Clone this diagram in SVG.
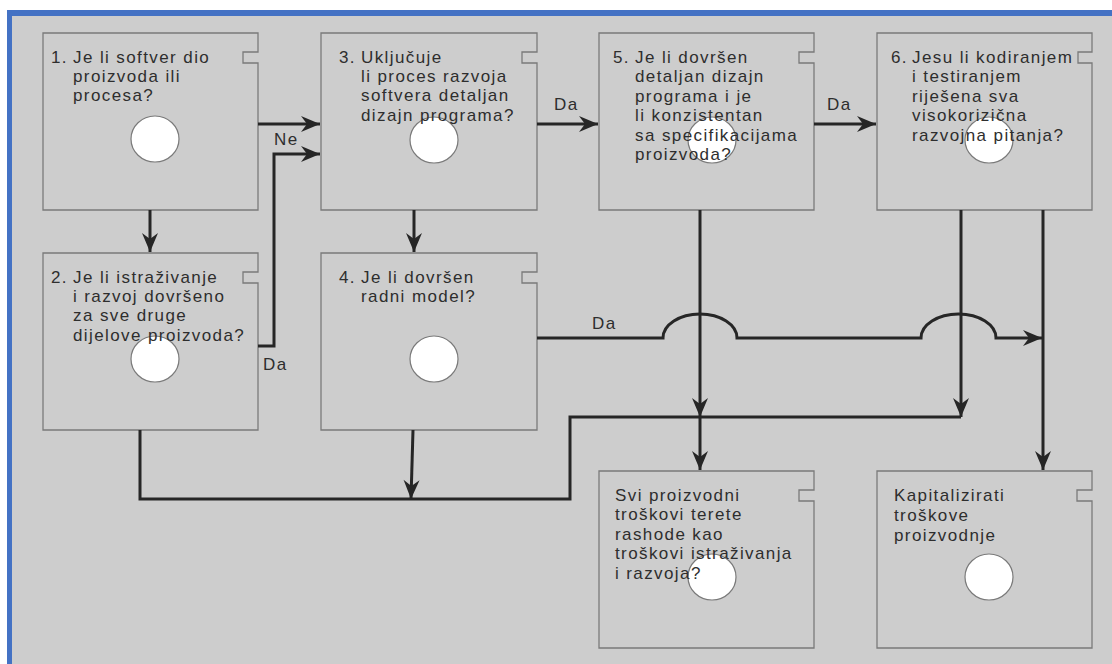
<svg xmlns="http://www.w3.org/2000/svg" width="1112" height="664" viewBox="0 0 1112 664">
<style>
.box{fill:#cdcdcd;stroke:#7a7a7a;stroke-width:1.3}
.hole{fill:#ffffff;stroke:#7a7a7a;stroke-width:1.2}
text{font-family:"Liberation Sans",Arial,sans-serif;font-size:17px;letter-spacing:1.4px;fill:#2e2e2e}
.c{fill:none;stroke:#262626;stroke-width:3}
</style>
<defs>
<marker id="ah" markerUnits="userSpaceOnUse" viewBox="-20 -10 22 20" refX="0" refY="0" markerWidth="22" markerHeight="20" orient="auto">
<path d="M0,0 L-19,-8 L-13,0 L-19,8 Z" fill="#262626"/>
</marker>
</defs>
<rect x="0" y="0" width="1112" height="664" fill="#ffffff"/>
<rect x="7" y="10" width="1105" height="654" fill="#4472c4"/>
<rect x="12" y="16" width="1100" height="648" fill="#cdcdcd"/>

<g id="n1">
<path class="box" d="M43,33 H258 V52 H243 V63 H258 V210 H43 Z"/>
<ellipse class="hole" cx="155" cy="139" rx="24" ry="23"/>
<text x="51" y="63">1.</text>
<text x="73" y="63">Je li softver dio</text>
<text x="73" y="82">proizvoda ili</text>
<text x="73" y="101">procesa?</text>
</g>
<g id="n3">
<path class="box" d="M321,33 H537 V52 H522 V63 H537 V210 H321 Z"/>
<ellipse class="hole" cx="434" cy="140" rx="24" ry="23"/>
<text x="339" y="63">3.</text>
<text x="361" y="63">Uključuje</text>
<text x="361" y="82">li proces razvoja</text>
<text x="361" y="101">softvera detaljan</text>
<text x="361" y="121">dizajn programa?</text>
</g>
<g id="n5">
<path class="box" d="M599,33 H814 V52 H799 V63 H814 V210 H599 Z"/>
<ellipse class="hole" cx="712" cy="140" rx="24" ry="23"/>
<text x="613" y="63">5.</text>
<text x="635" y="63">Je li dovršen</text>
<text x="635" y="82">detaljan dizajn</text>
<text x="635" y="102">programa i je</text>
<text x="635" y="121">li konzistentan</text>
<text x="635" y="141">sa specifikacijama</text>
<text x="635" y="160">proizvoda?</text>
</g>
<g id="n6">
<path class="box" d="M877,33 H1092 V52 H1078 V63 H1092 V210 H877 Z"/>
<ellipse class="hole" cx="989" cy="140" rx="24" ry="23"/>
<text x="891" y="63">6.</text>
<text x="912" y="63">Jesu li kodiranjem</text>
<text x="912" y="82">i testiranjem</text>
<text x="912" y="102">riješena sva</text>
<text x="912" y="121">visokorizična</text>
<text x="912" y="141">razvojna pitanja?</text>
</g>
<g id="n2">
<path class="box" d="M43,253 H258 V272 H243 V283 H258 V430 H43 Z"/>
<ellipse class="hole" cx="155" cy="359" rx="24" ry="23"/>
<text x="51" y="283">2.</text>
<text x="73" y="283">Je li istraživanje</text>
<text x="73" y="302">i razvoj dovršeno</text>
<text x="73" y="321">za sve druge</text>
<text x="73" y="341">dijelove proizvoda?</text>
</g>
<g id="n4">
<path class="box" d="M321,253 H537 V272 H522 V283 H537 V430 H321 Z"/>
<ellipse class="hole" cx="434" cy="359" rx="24" ry="23"/>
<text x="339" y="283">4.</text>
<text x="361" y="283">Je li dovršen</text>
<text x="361" y="302">radni model?</text>
</g>
<g id="n7">
<path class="box" d="M599,471 H814 V490 H799 V501 H814 V648 H599 Z"/>
<ellipse class="hole" cx="712" cy="577" rx="24" ry="23"/>
<text x="615" y="501">Svi proizvodni</text>
<text x="615" y="520">troškovi terete</text>
<text x="615" y="540">rashode kao</text>
<text x="615" y="559">troškovi istraživanja</text>
<text x="615" y="579">i razvoja?</text>
</g>
<g id="n8">
<path class="box" d="M877,471 H1092 V490 H1077 V501 H1092 V648 H877 Z"/>
<ellipse class="hole" cx="989" cy="577" rx="24" ry="23"/>
<text x="894" y="501">Kapitalizirati</text>
<text x="894" y="521">troškove</text>
<text x="894" y="541">proizvodnje</text>
</g>

<g id="connectors">
<path class="c" d="M150,210 V252" marker-end="url(#ah)"/>
<path class="c" d="M258,124 H320" marker-end="url(#ah)"/>
<path class="c" d="M258,346 H274 V154 H320" marker-end="url(#ah)"/>
<path class="c" d="M537,124 H598" marker-end="url(#ah)"/>
<path class="c" d="M814,124 H876" marker-end="url(#ah)"/>
<path class="c" d="M414,210 V252" marker-end="url(#ah)"/>
<path class="c" d="M537,338 H663 A37,24 0 0 1 737,338 H921 A37.5,24 0 0 1 996,338 H1042" marker-end="url(#ah)"/>
<path class="c" d="M140,430 V499 H570 V417 H961"/>
<path class="c" d="M961,210 V417" marker-end="url(#ah)"/>
<path class="c" d="M413,430 L411,499" marker-end="url(#ah)"/>
<path class="c" d="M700,210 V417" marker-end="url(#ah)"/>
<path class="c" d="M700,417 V470" marker-end="url(#ah)"/>
<path class="c" d="M1043,210 V470" marker-end="url(#ah)"/>
<text x="274" y="145">Ne</text>
<text x="263" y="370">Da</text>
<text x="554" y="110">Da</text>
<text x="827" y="110">Da</text>
<text x="592" y="329">Da</text>
</g>
</svg>
